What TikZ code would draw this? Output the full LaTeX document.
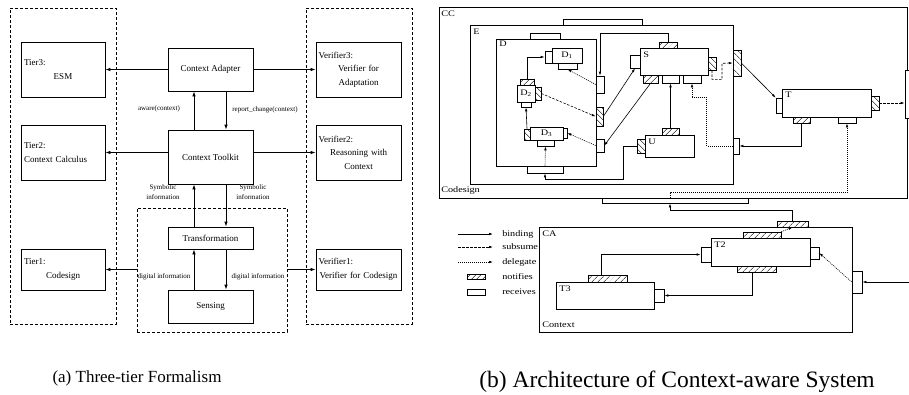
\documentclass[tikz,border=0pt]{standalone}
\usepackage{fontspec}
\setmainfont{Liberation Serif}
\newfontfamily\widefont{Liberation Serif}[FakeStretch=1.2]
\usetikzlibrary{arrows.meta, patterns.meta}
\tikzset{every picture/.style={x=1pt, y=-1pt, line width=0.6pt},
  sz/.style 2 args={minimum width=#1, minimum height=#2},
  blk/.style={draw, rectangle, inner sep=0pt, line width=0.8pt, font=\fontsize{9}{13.5}\selectfont},
  grp/.style={draw, rectangle, inner sep=0pt, line width=0.8pt, dash pattern=on 3pt off 2pt},
  flow/.style={line width=0.8pt, -{Latex[length=5pt,width=3.5pt]}},
  lbl/.style={font=\fontsize{7}{10}\selectfont, inner sep=0pt, align=center},
  captxt/.style={inner sep=0pt, anchor=base},
  comp/.style={draw, rectangle, inner sep=0pt, fill=white, font=\widefont\fontsize{8.5}{9}\selectfont},
  rcv/.style={draw, rectangle, inner sep=0pt, fill=white},
  ntfh/.style={draw, rectangle, inner sep=0pt, preaction={fill=white}, pattern={Lines[angle=45,distance=4pt,line width=0.5pt]}},
  ntfv/.style={draw, rectangle, inner sep=0pt, preaction={fill=white}, pattern={Lines[angle=-45,distance=4pt,line width=0.5pt]}},
  bind/.style={-{Latex[length=4pt,width=2.5pt]}},
  subs/.style={bind, dash pattern=on 2.5pt off 1.5pt},
  dlg/.style={bind, dash pattern=on 1pt off 1pt},
  tagtxt/.style={font=\widefont\fontsize{8.5}{9}\selectfont, inner sep=0pt, anchor=west}}

\begin{document}
\begin{tikzpicture}
  \useasboundingbox (0,0) rectangle (909,394);

  \node[grp, sz={106}{316}] (tiers) at (63,166) {};
  \node[grp, sz={106}{316}] (verifs) at (359,166) {};
  \node[grp, sz={150}{124}] (sensor) at (212,270) {};

  \node[blk, sz={84}{55}, text width=78pt, align=center] (tier3) at (63,69.5) {Tier3:\hfill\null\\ESM};
  \node[blk, sz={84}{55}, text width=78pt, align=left] (tier2) at (63,152.5) {Tier2:\\Context Calculus};
  \node[blk, sz={84}{41}, text width=78pt, align=center] (tier1) at (63,269.5) {Tier1:\hfill\null\\Codesign};
  \node[blk, sz={85}{55}, text width=80pt, align=center] (ver3) at (358.5,69.5) {Verifier3:\hfill\null\\Verifier for\\Adaptation};
  \node[blk, sz={85}{55}, text width=80pt, align=center] (ver2) at (358.5,152.5) {Verifier2:\hfill\null\\Reasoning with\\Context};
  \node[blk, sz={85}{41}, text width=80pt, align=center] (ver1) at (358.5,269.5) {Verifier1:\hfill\null\\Verifier for Codesign};
  \node[blk, sz={85}{43}] (adapter) at (210.5,69.5) {Context Adapter};
  \node[blk, sz={85}{54}] (toolkit) at (210.5,157) {Context Toolkit};
  \node[blk, sz={85}{22}] (transf) at (210.5,238) {Transformation};
  \node[blk, sz={85}{33}] (sensing) at (210.5,306.5) {Sensing};

  \foreach \a/\b in {adapter.west/tier3.east, adapter.east/ver3.west,
    toolkit.west |- tier2.east/tier2.east, toolkit.east |- ver2.west/ver2.west,
    sensor.west |- tier1.east/tier1.east, sensor.east |- ver1.west/ver1.west}
    \draw[flow] (\a) -- (\b);
  \foreach \u/\l in {adapter/toolkit, toolkit/transf, transf/sensing} {
    \draw[flow] ([xshift=-16.5pt]\l.north) -- ([xshift=-16.5pt]\u.south);
    \draw[flow] ([xshift=15.5pt]\u.south) -- ([xshift=15.5pt]\l.north);
  }

  \node[lbl] (awr) at (159,109) {aware(context)};
  \node[lbl] (rpc) at (265,110) {report\_change(context)};
  \node[lbl] (symL) at (163,192) {Symbolic\\information};
  \node[lbl] (symR) at (253,192) {Symbolic\\information};
  \node[lbl] (digL) at (164,277) {digital information};
  \node[lbl] (digR) at (258,277) {digital information};

  \node[captxt, font=\fontsize{17}{20}\selectfont] (capA) at (137,382) {(a) Three-tier Formalism};
  \node[captxt, font=\fontsize{23.5}{26}\selectfont] (capB) at (677,387) {(b) Architecture of Context-aware System};

  \node[comp, sz={468.5}{191}] (cc) at (673.25,102.5) {};
  \node[rcv, sz={8}{48}] (ccr) at (909,94) {};
  \node[rcv, sz={146}{5}] (ccb) at (675,200.5) {};
  \node[comp, sz={263}{159}] (e) at (601.5,104.5) {};
  \node[rcv, sz={79}{6}] (etr) at (602.5,22) {};
  \node[ntfv, sz={8}{26}] (ern) at (737,63) {};
  \node[rcv, sz={6}{16}] (err) at (736,146) {};

  \node[comp, sz={100}{127}] (d) at (546,102.5) {};
  \node[rcv, sz={30}{6}] (dtr) at (545,36) {};
  \node[rcv, sz={8}{17}] (drr1) at (600,84.5) {};
  \node[ntfv, sz={7}{19}] (drn) at (599.5,116.5) {};
  \node[rcv, sz={8}{13}] (drr2) at (600,145.5) {};
  \node[rcv, sz={36}{7}] (dbr) at (545,169.5) {};
  \node[comp, sz={30}{15}] (d1) at (567,55.5) {D\textsubscript{1}};
  \node[rcv, sz={7}{12}] (d1l) at (548.5,57) {};
  \node[rcv, sz={19}{6}] (d1b) at (567.5,66) {};
  \node[comp, sz={18}{17}] (d2) at (526,93.5) {D\textsubscript{2}};
  \node[ntfh, sz={14}{6}] (d2t) at (527,82) {};
  \node[ntfv, sz={6}{13}] (d2r) at (538,93.5) {};
  \node[rcv, sz={10}{5}] (d2b) at (526,104.5) {};
  \node[comp, sz={33}{13}] (d3) at (546.5,133.5) {D\textsubscript{3}};
  \node[ntfv, sz={6}{11}] (d3l) at (527,134.5) {};
  \node[rcv, sz={4}{10}] (d3r) at (565,133) {};
  \node[rcv, sz={17}{6}] (d3b) at (545.5,143) {};

  \node[comp, sz={68}{27}] (s) at (674,61.5) {};
  \node[ntfh, sz={18}{6}] (stn) at (668,45) {};
  \node[rcv, sz={10}{13}] (slr) at (635,61.5) {};
  \node[ntfh, sz={15}{8}] (sbn) at (650.5,79) {};
  \node[rcv, sz={17}{8}] (sbr1) at (670.5,79) {};
  \node[rcv, sz={18}{8}] (sbr2) at (692,79) {};
  \node[ntfv, sz={8}{13}] (srn) at (712,63.5) {};
  \node[comp, sz={49}{22}] (u) at (669.5,146) {};
  \node[ntfh, sz={17}{7}] (utn) at (670.5,131.5) {};
  \node[ntfv, sz={8}{14}] (uln) at (641,146) {};
  \node[comp, sz={89}{28}] (t) at (826.5,103) {};
  \node[rcv, sz={6}{15}] (tlr) at (779,105.5) {};
  \node[ntfv, sz={8}{14}] (trn) at (875,103) {};
  \node[ntfh, sz={17}{6}] (tbn) at (801.5,120) {};
  \node[rcv, sz={18}{6}] (tbr) at (847,120) {};

  \node[comp, sz={313}{105}] (ca) at (695.5,279.5) {};
  \node[ntfh, sz={31}{6}] (catn) at (792.5,224) {};
  \node[rcv, sz={10}{22}] (car) at (857,282) {};
  \node[comp, sz={99}{28}] (t2) at (760.5,252) {};
  \node[ntfh, sz={38}{6}] (t2tn) at (762,235) {};
  \node[ntfh, sz={39}{6}] (t2bn) at (756.5,269) {};
  \node[rcv, sz={10}{15}] (t2l) at (706,254.5) {};
  \node[rcv, sz={9}{12}] (t2r) at (814.5,253) {};
  \node[comp, sz={98}{27}] (t3) at (605,295.5) {};
  \node[ntfh, sz={39}{7}] (t3tn) at (607.5,278.5) {};
  \node[rcv, sz={10}{13}] (t3r) at (659,295.5) {};
  \coordinate (ext) at (912,282);

  \foreach \n/\x/\y/\t in {ccl/441/14/CC, cds/441/190/Codesign, el/473/32/E, dl/499/44/D,
    sl/643/55/S, ul/648/142/U, tl/785/95/T, cal/542/234/CA, ctx/542/325/Context,
    t2n/714/245/T2, t3n/559/289/T3}
    \node[tagtxt] (\n) at (\x,\y) {\t};

  \foreach \a/\b in {drn.east/slr.south, sbn.south/drr2.east, utn.north/sbr1.south,
    ern.east/tlr.north west, ext/car.east, d3l.north/d2b.south}
    \draw[bind] (\a) -- (\b);
  \foreach \a/\b in {dbr.north/d3b.south, drr1.west/d1b.south, drr2.west/d3r.east,
    car.west/t2r.east, t2tn.north east/catn.south}
    \draw[dlg] (\a) -- (\b);
  \draw[subs] (d2r.east) -- (drn.west);
  \draw[subs] (trn.east) -- (trn.east -| ccr.west);
  \draw[subs] (srn.south) -- ++(0,9) -| ++(10,-16) -- (ern.west);
  \draw[bind] (stn.north) -- ++(0,-8) -| (drr1.north);
  \draw[bind] (d2t.north) |- (d1l.west);
  \draw[bind] (uln.west) -- ++(-13,0) |- ([yshift=-6pt]dbr.south) -- (dbr.south);
  \draw[bind] (tbn.south) |- (err.east);
  \draw[dlg] (err.west) -- ++(-26,0) |- ([yshift=-14pt]sbr2.south) -- (sbr2.south);
  \draw[dlg] ([xshift=-5pt]ccb.north) -- ++(0,-5) -| (tbr.south);
  \draw[bind] (catn.north) -- ++(0,-10) -| ([xshift=-5pt]ccb.south);
  \draw[bind] ([xshift=-6.5pt]t3tn.north) |- (t2l.west);
  \draw[bind] ([xshift=-4.5pt]t2bn.south) |- (t3r.east);

  \foreach \y/\s/\t [count=\i] in {234/bind/binding, 247/subs/subsume, 262/dlg/delegate} {
    \coordinate (lga\i) at (458,\y);
    \coordinate (lgb\i) at (493,\y);
    \draw[\s] (lga\i) -- (lgb\i);
    \node[tagtxt] (lgt\i) at (502,\y) {\t};
  }
  \node[ntfh, sz={18}{5}] (lgn) at (476,277) {};
  \node[tagtxt] (lgnt) at (502,277) {notifies};
  \node[rcv, sz={18}{6}] (lgr) at (476,292) {};
  \node[tagtxt] (lgrt) at (502,292) {receives};
\end{tikzpicture}
\end{document}
